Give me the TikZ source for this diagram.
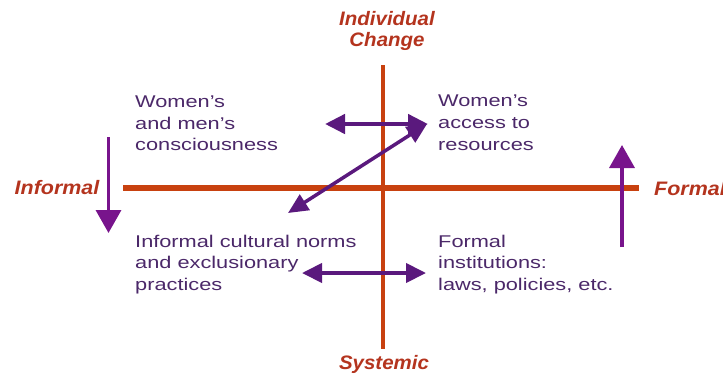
\documentclass[tikz,border=0pt]{standalone}
\usepackage{fontspec}
\setmainfont{Liberation Sans}[FakeStretch=1.28]
\newfontfamily\lblfont{Liberation Sans}[FakeStretch=1.05]
\newfontfamily\sidefont{Liberation Sans}[FakeStretch=1.1]
\usetikzlibrary{arrows.meta}
\definecolor{axiscol}{RGB}{200,65,15}
\definecolor{lblcol}{RGB}{180,52,30}
\definecolor{txtcol}{RGB}{75,40,105}
\definecolor{vpurple}{RGB}{120,20,140}
\definecolor{hpurple}{RGB}{90,25,125}
\tikzset{
  axisline/.style={draw=axiscol},
  axislabel/.style={inner sep=0pt, text=lblcol, font=\lblfont\bfseries\itshape\fontsize{19.5}{21}\selectfont},
  sidelabel/.style={inner sep=0pt, text=lblcol, font=\sidefont\bfseries\itshape\fontsize{19.5}{21}\selectfont},
  bodytext/.style={inner sep=0pt, anchor=north west, align=left, text=txtcol, font=\fontsize{17}{21.7}\selectfont},
  bigarrow/.style={draw=vpurple, line width=3.5pt, -{Triangle[length=23pt,width=25pt]}, color=vpurple},
  dblarrow/.style={draw=hpurple, line width=4.5pt, {Triangle[length=20pt,width=19pt]}-{Triangle[length=20pt,width=19pt]}, color=hpurple},
  diagarrow/.style={draw=hpurple, line width=3.5pt, {Triangle[length=20pt,width=18pt]}-{Triangle[length=20pt,width=18pt]}, color=hpurple}
}
\begin{document}
\begin{tikzpicture}[x=1pt,y=-1pt]
\useasboundingbox (0,0) rectangle (723,376);
% axes
\coordinate (vtop) at (383,65);
\coordinate (vbot) at (383,349);
\coordinate (hleft) at (123,188);
\coordinate (hright) at (639,188);
\draw[axisline, line width=4.5pt] (vtop) -- (vbot);
\draw[axisline, line width=6pt] (hleft) -- (hright);
% axis labels
\node[axislabel, anchor=north, align=center] (ind) at (387,11) {Individual\\Change};
\node[axislabel, anchor=base] (sys) at (384,369) {Systemic};
\node[sidelabel, anchor=base east] (inf) at (99.5,194.5) {Informal};
\node[sidelabel, anchor=base west] (frm) at (654,195) {Formal};
% quadrant texts
\node[bodytext] (cons) at (135,95.5) {Women’s\\and men’s\\consciousness};
\node[bodytext] (acc) at (438,95) {Women’s\\access to\\resources};
\node[bodytext] (norms) at (135,234.5) {Informal cultural norms\\and exclusionary\\practices};
\node[bodytext] (inst) at (438,234.5) {Formal\\institutions:\\laws, policies, etc.};
% vertical arrows
\coordinate (ldtop) at (108.5,137);
\coordinate (ldtip) at (108.5,233);
\coordinate (rubot) at (622,247);
\coordinate (rutip) at (622,145);
\draw[bigarrow] (ldtop) -- (ldtip);
\draw[bigarrow] (rubot) -- (rutip);
% horizontal and diagonal arrows
\coordinate (tl) at (325,124);
\coordinate (tr) at (428,124);
\coordinate (bl) at (302,273);
\coordinate (br) at (426,273);
\coordinate (dtop) at (427,124);
\coordinate (dbot) at (288,213);
\draw[dblarrow] (tl) -- (tr);
\draw[diagarrow] (dbot) -- (dtop);
\draw[dblarrow, line width=4pt] (bl) -- (br);
\end{tikzpicture}
\end{document}
